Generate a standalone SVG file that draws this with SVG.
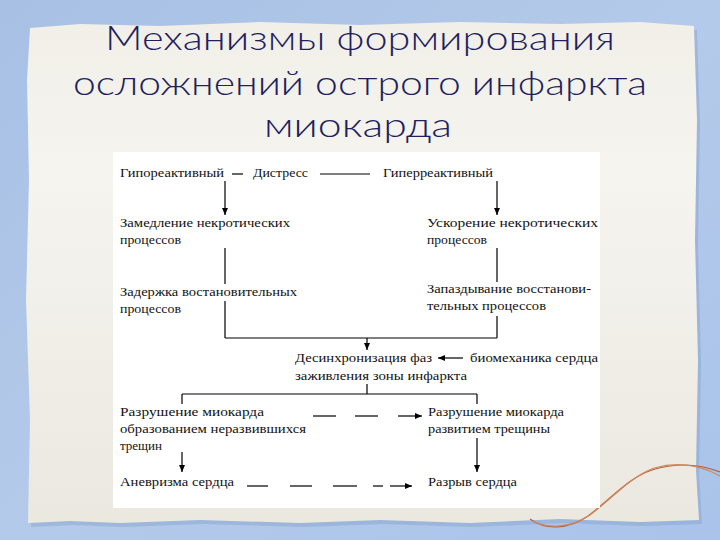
<svg xmlns="http://www.w3.org/2000/svg" width="720" height="540" viewBox="0 0 720 540">
<defs>
  <linearGradient id="bg" x1="0" y1="0" x2="1" y2="1">
    <stop offset="0" stop-color="#a7c0e4"/>
    <stop offset="0.5" stop-color="#b4caea"/>
    <stop offset="1" stop-color="#a9c3ea"/>
  </linearGradient>
  <linearGradient id="paper" x1="0" y1="0" x2="0" y2="1">
    <stop offset="0" stop-color="#f1efe8"/>
    <stop offset="0.3" stop-color="#f5f4ef"/>
    <stop offset="1" stop-color="#ebe8e0"/>
  </linearGradient>
  <marker id="ah" markerUnits="userSpaceOnUse" markerWidth="8" markerHeight="6" refX="7" refY="3" orient="auto">
    <path d="M0,0 L7,3 L0,6 z" fill="#000"/>
  </marker>
  <style>
    .t{font-family:"Liberation Serif","Times New Roman",serif;font-size:13px;fill:#111}
    .h{font-family:"Lato","DejaVu Sans","Noto Sans",sans-serif;font-weight:300;font-size:33px;fill:#231f5e;text-anchor:middle}
    .c line,.c path{stroke:#000;stroke-width:1.2;fill:none}
    .a{marker-end:url(#ah)}
  </style>
</defs>
<rect width="720" height="540" fill="url(#bg)"/>
<g id="paper-sheet">
  <path d="M30,28 L80,24 L160,26 L260,22 L360,25 L460,22 L560,24 L640,22 L694,26 L697,120 L695,240 L698,360 L696,470 L699,520 L640,522 L560,519 L470,523 L380,520 L300,523 L200,520 L120,523 L70,521 L28,523 L30,420 L26,300 L29,180 L27,80 Z" fill="#8aa6cc" opacity="0.5" transform="translate(3,4)"/>
  <path d="M30,28 L80,24 L160,26 L260,22 L360,25 L460,22 L560,24 L640,22 L694,26 L697,120 L695,240 L698,360 L696,470 L699,520 L640,522 L560,519 L470,523 L380,520 L300,523 L200,520 L120,523 L70,521 L28,523 L30,420 L26,300 L29,180 L27,80 Z" fill="url(#paper)"/>
</g>
<g id="thread" fill="none" stroke="#b5603a" stroke-width="1.2">
  <path d="M530,519 C545,530 568,530 588,516 C612,498 628,478 652,470 C678,462 700,464 720,472"/>
  <path d="M533,521 C548,529 570,528 590,515 C614,497 630,477 654,468 C680,461 702,466 720,476" stroke="#d08a5e"/>
</g>
<g id="title">
  <text class="h" x="360" y="50" textLength="510" lengthAdjust="spacingAndGlyphs">Механизмы формирования</text>
  <text class="h" x="360" y="95" textLength="574" lengthAdjust="spacingAndGlyphs">осложнений острого инфаркта</text>
  <text class="h" x="358" y="137" textLength="188" lengthAdjust="spacingAndGlyphs">миокарда</text>
</g>
<rect id="panel" x="113" y="152" width="487" height="356" fill="#fff"/>
<g class="c" id="connectors">
  <line x1="232" y1="174" x2="243" y2="174"/>
  <line x1="320" y1="174" x2="370" y2="174"/>
  <line class="a" x1="225" y1="181" x2="225" y2="215"/>
  <line class="a" x1="497" y1="181" x2="497" y2="215"/>
  <line x1="225" y1="248" x2="225" y2="284"/>
  <line x1="225" y1="301" x2="225" y2="338"/>
  <line x1="497" y1="248" x2="497" y2="282"/>
  <line x1="497" y1="316" x2="497" y2="338"/>
  <line x1="225" y1="338" x2="497" y2="338"/>
  <line class="a" x1="367" y1="338" x2="367" y2="350"/>
  <line class="a" x1="463" y1="358" x2="438" y2="358"/>
  <line x1="367" y1="384" x2="367" y2="394"/>
  <line x1="182" y1="394" x2="477" y2="394"/>
  <line x1="182" y1="394" x2="182" y2="404"/>
  <line x1="477" y1="394" x2="477" y2="404"/>
  <line x1="313" y1="416" x2="336" y2="416"/>
  <line x1="355" y1="416" x2="378" y2="416"/>
  <line class="a" x1="398" y1="416" x2="422" y2="416"/>
  <line class="a" x1="182" y1="452" x2="182" y2="472"/>
  <line class="a" x1="477" y1="438" x2="477" y2="472"/>
  <line x1="247" y1="486" x2="268" y2="486"/>
  <line x1="290" y1="486" x2="312" y2="486"/>
  <line x1="333" y1="486" x2="357" y2="486"/>
  <line x1="373" y1="486" x2="383" y2="486"/>
  <line class="a" x1="390" y1="486" x2="412" y2="486"/>
</g>
<g id="n-hypo"><text class="t" x="120" y="177" textLength="104" lengthAdjust="spacingAndGlyphs">Гипореактивный</text></g>
<g id="n-distress"><text class="t" x="253" y="177" textLength="55" lengthAdjust="spacingAndGlyphs">Дистресс</text></g>
<g id="n-hyper"><text class="t" x="383" y="177" textLength="110" lengthAdjust="spacingAndGlyphs">Гиперреактивный</text></g>
<g id="n-slow">
  <text class="t" x="120" y="227" textLength="170" lengthAdjust="spacingAndGlyphs">Замедление некротических</text>
  <text class="t" x="120" y="244" textLength="61" lengthAdjust="spacingAndGlyphs">процессов</text>
</g>
<g id="n-fast">
  <text class="t" x="427" y="227" textLength="171" lengthAdjust="spacingAndGlyphs">Ускорение некротических</text>
  <text class="t" x="427" y="244" textLength="60" lengthAdjust="spacingAndGlyphs">процессов</text>
</g>
<g id="n-delay">
  <text class="t" x="120" y="296" textLength="177" lengthAdjust="spacingAndGlyphs">Задержка востановительных</text>
  <text class="t" x="120" y="313" textLength="61" lengthAdjust="spacingAndGlyphs">процессов</text>
</g>
<g id="n-late">
  <text class="t" x="427" y="293" textLength="164" lengthAdjust="spacingAndGlyphs">Запаздывание восстанови-</text>
  <text class="t" x="427" y="310" textLength="119" lengthAdjust="spacingAndGlyphs">тельных процессов</text>
</g>
<g id="n-desync">
  <text class="t" x="295" y="362" textLength="137" lengthAdjust="spacingAndGlyphs">Десинхронизация фаз</text>
  <text class="t" x="295" y="380" textLength="172" lengthAdjust="spacingAndGlyphs">заживления зоны инфаркта</text>
</g>
<g id="n-biomech"><text class="t" x="470" y="362" textLength="128" lengthAdjust="spacingAndGlyphs">биомеханика сердца</text></g>
<g id="n-destr1">
  <text class="t" x="120" y="416" textLength="144" lengthAdjust="spacingAndGlyphs">Разрушение миокарда</text>
  <text class="t" x="120" y="433" textLength="186" lengthAdjust="spacingAndGlyphs">образованием неразвившихся</text>
  <text class="t" x="120" y="450" textLength="42" lengthAdjust="spacingAndGlyphs">трещин</text>
</g>
<g id="n-destr2">
  <text class="t" x="428" y="416" textLength="136" lengthAdjust="spacingAndGlyphs">Разрушение миокарда</text>
  <text class="t" x="428" y="433" textLength="122" lengthAdjust="spacingAndGlyphs">развитием трещины</text>
</g>
<g id="n-aneur"><text class="t" x="120" y="486" textLength="114" lengthAdjust="spacingAndGlyphs">Аневризма сердца</text></g>
<g id="n-rupture"><text class="t" x="428" y="486" textLength="89" lengthAdjust="spacingAndGlyphs">Разрыв сердца</text></g>
</svg>
